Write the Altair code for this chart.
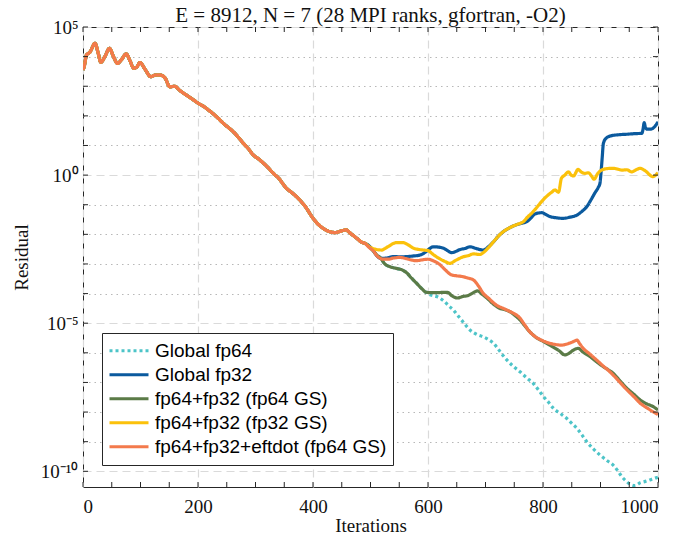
import altair as alt
import pandas as pd

# ---------------- data (residual as log10) ----------------
common_iter = [0, 2, 6, 12, 21, 26, 31, 38, 46, 53, 60, 67, 75, 82, 88, 94, 99, 108, 118, 126,
               134, 143, 151, 160, 165, 169, 180, 192, 200, 209, 218, 227, 235, 244, 252, 261,
               270, 279, 288, 296, 305, 314, 322, 331, 340, 354, 365, 377, 388, 398, 406, 415,
               425, 438, 447, 457, 466, 476, 486, 490]
common_log = [3.55, 3.66, 4.05, 4.15, 4.45, 4.15, 3.81, 4.00, 4.28, 4.00, 3.77, 3.90, 4.09, 3.85,
              3.61, 3.66, 3.80, 3.57, 3.32, 3.38, 3.38, 3.27, 2.98, 3.00, 2.92, 2.85, 2.70, 2.54,
              2.43, 2.33, 2.20, 2.06, 1.92, 1.75, 1.62, 1.47, 1.28, 1.07, 0.88, 0.68, 0.55, 0.40,
              0.25, 0.06, -0.10, -0.45, -0.62, -0.84, -1.10, -1.40, -1.60, -1.76, -1.88, -1.94,
              -1.90, -1.85, -1.98, -2.13, -2.28, -2.30]

fp32_iter = [498, 505, 511, 517, 528, 540, 552, 563, 575, 586, 597, 603, 609, 618, 627, 634, 641,
             648, 656, 664, 673, 684, 696, 705, 714, 722, 731, 740, 748, 760, 772, 779, 786, 798,
             805, 812, 823, 835, 847, 859, 868, 876, 883, 890, 896, 899, 901, 903, 905, 910, 917,
             930, 946, 960, 972, 974, 976, 978, 981, 986, 991, 996, 1000]
fp32_log = [-2.40, -2.56, -2.72, -2.81, -2.80, -2.75, -2.76, -2.75, -2.73, -2.70, -2.58, -2.48,
            -2.42, -2.43, -2.47, -2.55, -2.62, -2.58, -2.51, -2.48, -2.42, -2.48, -2.53, -2.42,
            -2.25, -2.07, -1.91, -1.80, -1.72, -1.64, -1.57, -1.45, -1.31, -1.27, -1.33, -1.40,
            -1.44, -1.46, -1.42, -1.35, -1.22, -1.07, -0.85, -0.61, -0.42, -0.28, 0.10, 0.60,
            1.07, 1.25, 1.32, 1.36, 1.38, 1.40, 1.41, 1.55, 1.77, 1.62, 1.55, 1.55, 1.58, 1.68, 1.80]

mixgs64_iter = [498, 505, 511, 517, 525, 535, 545, 555, 563, 570, 580, 590, 596, 605, 615, 625,
                634, 642, 651, 660, 669, 678, 686, 694, 704, 714, 725, 735, 743, 752, 760, 768,
                777, 788, 801, 810, 818, 828, 838, 845, 852, 861, 870, 882, 893, 905, 914, 922,
                934, 946, 958, 969, 980, 990, 1000]
mixgs64_log = [-2.42, -2.56, -2.70, -2.79, -3.00, -3.10, -3.15, -3.20, -3.30, -3.45, -3.65, -3.85,
               -3.95, -3.97, -3.97, -3.96, -3.96, -4.08, -4.15, -4.10, -4.07, -3.98, -3.91, -4.02,
               -4.18, -4.36, -4.50, -4.55, -4.62, -4.75, -4.89, -5.08, -5.29, -5.48, -5.62, -5.72,
               -5.81, -5.93, -6.07, -6.02, -5.92, -5.85, -5.98, -6.13, -6.30, -6.47, -6.58, -6.69,
               -6.95, -7.20, -7.40, -7.59, -7.72, -7.80, -7.93]

mixgs32_iter = [498, 508, 519, 530, 545, 557, 566, 575, 592, 600, 609, 620, 630, 638, 648, 661,
                670, 679, 690, 696, 705, 714, 722, 731, 740, 748, 757, 766, 773, 780, 788, 795,
                802, 809, 815, 821, 827, 832, 838, 844, 849, 853, 861, 867, 873, 879, 884, 889,
                895, 902, 912, 922, 930, 937, 946, 954, 962, 969, 975, 980, 986, 991, 1000]
mixgs32_log = [-2.42, -2.50, -2.53, -2.42, -2.28, -2.28, -2.36, -2.47, -2.53, -2.55, -2.68, -2.82,
               -2.92, -2.98, -2.88, -2.76, -2.72, -2.66, -2.68, -2.62, -2.45, -2.25, -2.07, -1.91,
               -1.80, -1.72, -1.65, -1.57, -1.42, -1.29, -1.12, -0.95, -0.80, -0.67, -0.58, -0.50,
               -0.58, -0.11, 0.00, 0.11, 0.00, -0.03, 0.19, 0.10, 0.06, 0.08, -0.02, -0.14, 0.05,
               0.17, 0.22, 0.23, 0.20, 0.17, 0.18, 0.11, 0.18, 0.23, 0.18, 0.11, 0.00, -0.05, 0.08]

eft_iter = [498, 505, 511, 517, 522, 530, 540, 551, 562, 572, 580, 590, 600, 610, 621, 630, 641,
            650, 661, 670, 679, 688, 696, 705, 719, 731, 743, 752, 760, 768, 777, 786, 795, 803,
            812, 822, 832, 845, 853, 859, 864, 870, 882, 893, 905, 914, 922, 934, 946, 958, 969,
            980, 990, 1000]
eft_log = [-2.45, -2.56, -2.72, -2.81, -2.84, -2.84, -2.80, -2.78, -2.82, -2.87, -2.89, -2.86,
           -2.84, -2.90, -3.03, -3.20, -3.37, -3.40, -3.43, -3.48, -3.54, -3.75, -3.99, -4.15,
           -4.39, -4.50, -4.61, -4.70, -4.83, -5.05, -5.29, -5.45, -5.55, -5.62, -5.68, -5.72,
           -5.74, -5.68, -5.62, -5.57, -5.70, -5.85, -6.05, -6.24, -6.45, -6.60, -6.75, -7.00,
           -7.25, -7.48, -7.70, -7.85, -7.97, -8.08]

fp64_iter = [605, 615, 628, 638, 644, 651, 662, 673, 685, 696, 705, 714, 725, 737, 748, 760, 772,
             783, 792, 801, 810, 818, 830, 841, 850, 859, 868, 876, 888, 899, 910, 922, 930, 937,
             944, 951, 960, 969, 978, 986, 993, 1000]
fp64_log = [-4.05, -4.10, -4.26, -4.45, -4.55, -4.72, -4.98, -5.23, -5.38, -5.46, -5.55, -5.68,
            -5.95, -6.24, -6.45, -6.64, -6.85, -7.03, -7.25, -7.48, -7.68, -7.87, -8.05, -8.21,
            -8.38, -8.55, -8.78, -9.00, -9.25, -9.45, -9.62, -9.79, -9.98, -10.18, -10.32, -10.43,
            -10.48, -10.39, -10.34, -10.29, -10.24, -10.20]

series_names = ["Global fp64", "Global fp32", "fp64+fp32 (fp64 GS)",
                "fp64+fp32 (fp32 GS)", "fp64+fp32+eftdot (fp64 GS)"]
series_colors = ["#4DC4C8", "#0B5A9E", "#5B7B47", "#FBC10B", "#F37A4C"]
series_dash = [[3, 3], [1, 0], [1, 0], [1, 0], [1, 0]]

x_tick_values = list(range(0, 1001, 50))
x_label_values = [0, 200, 400, 600, 800, 1000]
y_tick_exponents = list(range(-10, 6))
y_label_text = {5: "10⁵", 0: "10⁰", -5: "10⁻⁵", -10: "10⁻¹⁰"}

title_text = "E = 8912, N = 7 (28 MPI ranks, gfortran, -O2)"

# ---------------- assemble table ----------------
g64_head = [(i, l) for i, l in zip(mixgs64_iter, mixgs64_log) if i <= 596]
tails = {
    "Global fp64": g64_head + list(zip(fp64_iter, fp64_log)),
    "Global fp32": list(zip(fp32_iter, fp32_log)),
    "fp64+fp32 (fp64 GS)": list(zip(mixgs64_iter, mixgs64_log)),
    "fp64+fp32 (fp32 GS)": list(zip(mixgs32_iter, mixgs32_log)),
    "fp64+fp32+eftdot (fp64 GS)": list(zip(eft_iter, eft_log)),
}
rows = []
for k, name in enumerate(series_names):
    pts = list(zip(common_iter, common_log)) + tails[name]
    for it, lg in pts:
        rows.append({"Iterations": it, "Residual": 10.0 ** lg, "series": name, "k": k})
df = pd.DataFrame(rows).sort_values(["k", "Iterations"])

ymin = 10 ** -10.53
W, H = 575, 460

xscale = alt.Scale(domain=[0, 1000], nice=False, zero=False)
yscale = alt.Scale(type="log", domain=[ymin, 1e5], nice=False)

serif = "Liberation Serif"
major_test = "round(log(datum.value)/LN10) % 5 === 0"
lab_expr = " : ".join(
    f"round(log(datum.value)/LN10) === {e} ? '{t}'" for e, t in y_label_text.items()
) + " : ''"
xlab_expr = "indexof([" + ",".join(str(v) for v in x_label_values) + "], datum.value) >= 0 ? datum.label : ''"

x_axis = alt.Axis(
    values=x_tick_values, labelExpr=xlab_expr, format="d", title="Iterations",
    grid=True,
    gridOpacity={"condition": {"test": "datum.value % 200 === 0", "value": 1}, "value": 0},
    gridColor="#dadada", gridDash=[8, 5], gridWidth=1.2,
    ticks=False, tickSize=0, domain=False,
    labelFont=serif, labelFontSize=19, labelColor="#111", labelPadding=10,
    titleFont=serif, titleFontSize=19, titleFontWeight="normal", titleColor="#111",
    titlePadding=0,
)
y_axis = alt.Axis(
    values=[10.0 ** e for e in y_tick_exponents], labelExpr=lab_expr, title="Residual",
    grid=True,
    gridColor={"condition": {"test": major_test, "value": "#dadada"}, "value": "#b8b8b8"},
    gridDash={"condition": {"test": major_test, "value": [8, 5]}, "value": [1.5, 4]},
    gridWidth=1.2,
    ticks=False, tickSize=0, domain=False,
    labelFont=serif, labelFontSize=19, labelColor="#111", labelPadding=5,
    titleFont=serif, titleFontSize=19, titleFontWeight="normal", titleColor="#111",
    titlePadding=9,
)

legend = alt.Legend(
    title=None, orient="none", legendX=19, legendY=306,
    symbolType="stroke", symbolSize=1521, symbolStrokeWidth=3,
    labelFont="Liberation Sans", labelFontSize=19, labelColor="#000", labelOffset=5,
    labelLimit=400,
    clipHeight=23.3, rowPadding=0, padding=6,
    strokeColor="#262626", fillColor="white", cornerRadius=0,
)

lines = alt.Chart(df).mark_line(strokeWidth=3.2, clip=True, strokeCap="butt",
                                interpolate="monotone").encode(
    x=alt.X("Iterations:Q", scale=xscale, axis=x_axis),
    y=alt.Y("Residual:Q", scale=yscale, axis=y_axis),
    color=alt.Color("series:N", scale=alt.Scale(domain=series_names, range=series_colors), legend=legend),
    strokeDash=alt.StrokeDash("series:N", scale=alt.Scale(domain=series_names, range=series_dash), legend=legend),
    detail="series:N",
)

xt = pd.DataFrame({"Iterations": x_tick_values})
yt = pd.DataFrame({"Residual": [10.0 ** e for e in y_tick_exponents]})
tick_style = dict(color="#262626", strokeWidth=1)
ticks_bottom = alt.Chart(xt).mark_rule(**tick_style).encode(
    x=alt.X("Iterations:Q", scale=xscale), y=alt.value(H), y2=alt.value(H - 5))
ticks_top = alt.Chart(xt).mark_rule(**tick_style).encode(
    x=alt.X("Iterations:Q", scale=xscale), y=alt.value(0), y2=alt.value(5))
ticks_left = alt.Chart(yt).mark_rule(**tick_style).encode(
    y=alt.Y("Residual:Q", scale=yscale), x=alt.value(0), x2=alt.value(5))
ticks_right = alt.Chart(yt).mark_rule(**tick_style).encode(
    y=alt.Y("Residual:Q", scale=yscale), x=alt.value(W), x2=alt.value(W - 5))

chart = alt.layer(lines, ticks_bottom, ticks_top, ticks_left, ticks_right).properties(
    width=W, height=H,
    title=alt.TitleParams(title_text, font=serif, fontSize=21, fontWeight="normal",
                          color="#111", anchor="middle", offset=0, dy=8),
    autosize=alt.AutoSizeParams(type="none"),
    padding={"left": 83, "top": 27, "right": 699 - 83 - W, "bottom": 538 - 27 - H},
    background="white",
).configure_view(stroke="#262626", strokeWidth=1)

chart.save("out.html", embed_options={"renderer": "svg", "actions": False})
